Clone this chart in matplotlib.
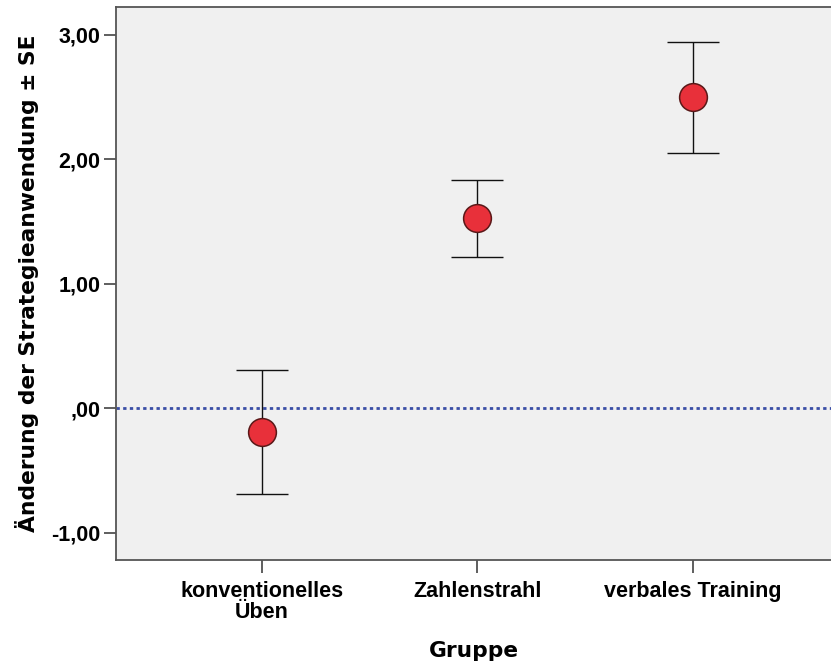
import matplotlib
matplotlib.use('Agg')
import matplotlib.pyplot as plt
import numpy as np

# Mittelwerte und Standardfehler je Gruppe
groups = ['konventionelles\nÜben', 'Zahlenstrahl', 'verbales Training']
means = [-0.19, 1.525, 2.50]
se = [0.50, 0.31, 0.445]
yticks = [-1.0, 0.0, 1.0, 2.0, 3.0]
ytick_labels = ['-1,00', ',00', '1,00', '2,00', '3,00']

plt.rcParams['font.family'] = ['Liberation Sans', 'DejaVu Sans']

fig = plt.figure(figsize=(8.31, 6.66), dpi=100)
ax = fig.add_axes([116 / 831, 106 / 666, 1 - 116 / 831, 553 / 666])
ax.set_facecolor('#f0f0f0')

x = np.arange(len(groups))

# Nulllinie
ax.axhline(0, color='#3a4ea6', lw=2, linestyle=(0, (1.2, 1.2)), zorder=1)

ax.errorbar(x, means, yerr=se, fmt='none', ecolor='#111111', elinewidth=1.0,
            capsize=18.5, capthick=1.0, zorder=2)
ax.plot(x, means, 'o', markersize=20, markerfacecolor='#e8303a',
        markeredgecolor='#5a1818', markeredgewidth=1.1, zorder=3)

ax.set_xlim(-0.675, 2.639)
ax.set_ylim(-1.22, 3.225)

ax.set_xticks(x)
ax.set_xticklabels(groups, fontsize=15.5, fontweight='bold', linespacing=1.0)
ax.set_yticks(yticks)
ax.set_yticklabels(ytick_labels, fontsize=15.5, fontweight='bold')

for s in ['left', 'bottom', 'top']:
    ax.spines[s].set_color('#555555')
    ax.spines[s].set_linewidth(1.3)
ax.spines['right'].set_visible(False)

ax.tick_params(axis='both', length=9, width=1.1, color='#333333')
ax.tick_params(axis='y', pad=2)
ax.tick_params(axis='x', pad=6)

ax.set_xlabel('Gruppe', fontsize=15.7, fontweight='bold', family='DejaVu Sans',
              labelpad=13)
ax.set_ylabel('Änderung der Strategieanwendung ± SE', fontsize=15.7,
              fontweight='bold', family='DejaVu Sans', labelpad=9)

fig.savefig('out.png', dpi=100)
